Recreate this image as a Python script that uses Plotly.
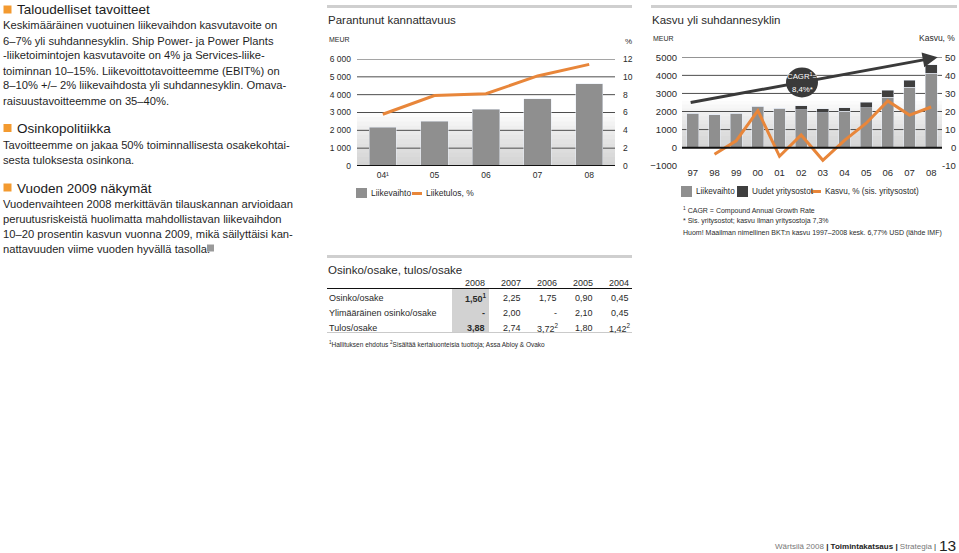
import plotly.graph_objects as go

W, H = 959, 553
def X(px): return px / W
def Y(py): return 1 - py / H

COND = "Liberation Sans, Arial, Helvetica, sans-serif"
SANS = "Liberation Sans, Arial, Helvetica, sans-serif"

# ---------------- data ----------------
c1_years = ["04¹", "05", "06", "07", "08"]
c1_sales = [2170, 2510, 3190, 3760, 4600]
c1_ebit_pct = [5.8, 7.9, 8.1, 10.1, 11.4]

c2_years = ["97", "98", "99", "00", "01", "02", "03", "04", "05", "06", "07", "08"]
c2_sales = [1900, 1830, 1900, 2280, 2170, 2110, 1930, 2020, 2220, 2800, 3350, 4130]
c2_acq = [0, 0, 0, 0, 0, 205, 220, 185, 300, 370, 390, 445]
c2_growth = [None, -3.7, 3.8, 20.5, -4.8, 7.0, -7.0, 4.0, 13.5, 25.8, 18.0, 22.5]
c2_pct_ticks = [-10, 0, 10, 20, 30, 40, 50]

tbl_years = ["2008", "2007", "2006", "2005", "2004"]
tbl_rows = ["Osinko/osake", "Ylimääräinen osinko/osake", "Tulos/osake"]
tbl_vals = [
    ["1,50<sup>1</sup>", "2,25", "1,75", "0,90", "0,45"],
    ["-", "2,00", "-", "2,10", "0,45"],
    ["3,88", "2,74", "3,72<sup>2</sup>", "1,80", "1,42<sup>2</sup>"],
]

GRAY = "#8f8f8f"
DARK = "#3f3f3f"
ORANGE = "#e8863a"
TXT = "#2a2a2a"
ARROW = "#3a3a3a"

fig = go.Figure()

# ---------------- chart 1 ----------------
fig.add_trace(go.Bar(x=c1_years, y=c1_sales, marker_color=GRAY, width=0.53,
                     xaxis="x", yaxis="y", showlegend=False))
fig.add_trace(go.Scatter(x=c1_years, y=c1_ebit_pct, mode="lines",
                         line=dict(color=ORANGE, width=3), xaxis="x", yaxis="y2", showlegend=False))

# ---------------- chart 2 ----------------
fig.add_trace(go.Bar(x=c2_years, y=c2_sales, marker_color=GRAY, width=0.54,
                     xaxis="x2", yaxis="y3", showlegend=False))
fig.add_trace(go.Bar(x=c2_years, y=c2_acq, marker_color=DARK, width=0.54,
                     xaxis="x2", yaxis="y3", showlegend=False))
fig.add_trace(go.Scatter(x=c2_years, y=c2_growth, mode="lines",
                         line=dict(color=ORANGE, width=3), xaxis="x2", yaxis="y4",
                         showlegend=False, connectgaps=False))

tickfont1 = dict(family=COND, size=8.5, color=TXT)
tickfont2 = dict(family=COND, size=9.5, color=TXT)

fig.update_layout(
    width=W, height=H, margin=dict(l=0, r=0, t=0, b=0, pad=0, autoexpand=False),
    paper_bgcolor="white", plot_bgcolor="rgba(0,0,0,0)",
    barmode="stack", bargap=0.4, showlegend=False,
    xaxis=dict(domain=[X(357), X(615)], anchor="y", showgrid=False, showline=False,
               zeroline=False, tickfont=tickfont1, ticks="", ticklabelstandoff=2,
               range=[-0.5, 4.5], automargin=False),
    yaxis=dict(domain=[Y(166), Y(59)], anchor="x", range=[0, 6000], showgrid=False,
               zeroline=False, tickvals=[0, 1000, 2000, 3000, 4000, 5000, 6000],
               ticktext=["0", "1 000", "2 000", "3 000", "4 000", "5 000", "6 000"],
               tickfont=tickfont1, ticklabelstandoff=5, automargin=False),
    yaxis2=dict(overlaying="y", side="right", anchor="x", range=[0, 12], showgrid=False,
                zeroline=False, tickvals=[0, 2, 4, 6, 8, 10, 12],
                tickfont=tickfont1, ticklabelstandoff=7, automargin=False),
    xaxis2=dict(domain=[X(682), X(942)], anchor="y3", showgrid=False, showline=False,
                zeroline=False, tickfont=tickfont2, ticks="", ticklabelstandoff=0,
                range=[-0.5, 11.5], automargin=False),
    yaxis3=dict(domain=[Y(165.7), Y(57.3)], anchor="x2", range=[-1000, 5000], showgrid=False,
                zeroline=False, tickvals=[-1000, 0, 1000, 2000, 3000, 4000, 5000],
                tickfont=tickfont2, ticklabelstandoff=4, automargin=False),
    yaxis4=dict(overlaying="y3", side="right", anchor="x2", range=[-10, 50], showgrid=False,
                zeroline=False, showticklabels=False, automargin=False),
)

shapes = []
annos = []

def rect_px(x0, y0, x1, y1, color, layer="above", line=None):
    shapes.append(dict(type="rect", xref="paper", yref="paper", x0=X(x0), x1=X(x1),
                       y0=Y(y1), y1=Y(y0), fillcolor=color, layer=layer,
                       line=dict(width=0) if line is None else line))

def line_px(x0, y0, x1, y1, color, width):
    shapes.append(dict(type="line", xref="paper", yref="paper", x0=X(x0), x1=X(x1),
                       y0=Y(y0), y1=Y(y1), line=dict(color=color, width=width), layer="above"))

def text_px(x, y, s, size, color=TXT, family=SANS, xanchor="left", yanchor="middle"):
    annos.append(dict(xref="paper", yref="paper", x=X(x), y=Y(y), text=s, showarrow=False,
                      xanchor=xanchor, yanchor=yanchor, align=xanchor if xanchor != "center" else "center",
                      font=dict(family=family, size=size, color=color)))

# right-aligned % tick labels of chart 2
for v in c2_pct_ticks:
    annos.append(dict(xref="paper", yref="y4", x=X(957.5), y=v, text=str(v), showarrow=False,
                      xanchor="right", yanchor="middle", font=tickfont2))

# gradient backgrounds (stacked translucent rects)
def gradient(xref, yref, top, n=12):
    for k in range(n):
        lvl = top * (k + 1) / n
        shapes.append(dict(type="rect", xref=xref, yref=yref, x0=0, x1=1, y0=0, y1=lvl,
                           fillcolor="rgba(150,150,150,0.04)", line=dict(width=0), layer="below"))

gradient("x domain", "y", 3000)
gradient("x2 domain", "y3", 2600)

# gridlines chart 1
for v in [1000, 2000, 3000, 4000, 5000, 6000]:
    shapes.append(dict(type="line", xref="x domain", yref="y", x0=0, x1=1, y0=v, y1=v,
                       line=dict(color="#4d4d4d", width=1), layer="below"))
shapes.append(dict(type="line", xref="x domain", yref="y", x0=0, x1=1, y0=0, y1=0,
                   line=dict(color="#111111", width=2), layer="above"))
# gridlines chart 2
for v in [1000, 2000, 3000, 4000, 5000]:
    shapes.append(dict(type="line", xref="x2 domain", yref="y3", x0=0, x1=1, y0=v, y1=v,
                       line=dict(color="#4d4d4d", width=1), layer="below"))
shapes.append(dict(type="line", xref="x2 domain", yref="y3", x0=0, x1=1, y0=0, y1=0,
                   line=dict(color="#111111", width=2), layer="above"))

# top rules
rect_px(327, 5, 632, 8, "#cfcfcf")
rect_px(651, 5, 957, 8, "#cfcfcf")
rect_px(327, 255, 632, 258, "#cfcfcf")

# chart titles
text_px(326, 20, "Parantunut kannattavuus", 11.5, family=COND)
text_px(327, 39, "MEUR", 7, family=COND)
text_px(623, 42, "%", 8, family=COND)
text_px(650, 20, "Kasvu yli suhdannesyklin", 11.5, family=COND)
text_px(651, 38, "MEUR", 7, family=COND)
text_px(957, 38, "Kasvu, %", 8.5, family=COND, xanchor="right")

# chart 1 legend
rect_px(356, 188, 367, 198, GRAY)
text_px(369, 193, "Liikevaihto", 8.5, family=COND)
rect_px(412, 192, 422, 195, ORANGE)
text_px(424, 193, "Liiketulos, %", 8.5, family=COND)

# chart 2 legend
rect_px(681, 186, 692, 197, GRAY)
text_px(694, 191.5, "Liikevaihto", 8.2, family=COND)
rect_px(737, 186, 748, 197, DARK)
text_px(750, 191.5, "Uudet yritysostot", 8.2, family=COND)
rect_px(811, 190, 821, 193, ORANGE)
text_px(823, 191.5, "Kasvu, % (sis. yritysostot)", 8.2, family=COND)
text_px(681, 210, "<sup>1</sup> CAGR = Compound Annual Growth Rate", 7, family=COND)
text_px(681, 221.5, "* Sis. yritysostot; kasvu ilman yritysostoja 7,3%", 7, family=COND)
text_px(681, 233, "Huom! Maailman nimellinen BKT:n kasvu 1997–2008 kesk. 6,77% USD (lähde IMF)", 7, family=COND)

# CAGR arrow (shaft as shape below the bubble, head as annotation) and bubble
ax0, ay0, ax1, ay1 = -0.1, 2500, 11.3, 5000
def arrow_y(xv): return ay0 + (ay1 - ay0) * (xv - ax0) / (ax1 - ax0)
shapes.append(dict(type="line", xref="x2", yref="y3", x0=ax0, y0=ay0, x1=10.9, y1=arrow_y(10.9),
                   line=dict(color=ARROW, width=3), layer="above"))
annos.append(dict(xref="x2", yref="y3", axref="x2", ayref="y3", x=ax1, y=ay1,
                  ax=10.6, ay=arrow_y(10.6), showarrow=True, arrowhead=2, arrowsize=1.0,
                  arrowwidth=3, arrowcolor=ARROW, text=""))
shapes.append(dict(type="circle", xref="paper", yref="paper", x0=X(786), x1=X(818),
                   y0=Y(97.5), y1=Y(67.5), fillcolor=ARROW, line=dict(width=0), layer="above"))
text_px(802, 76.5, "CAGR<sup>1</sup>=", 7.8, color="white", family=COND, xanchor="center")
text_px(802, 89, "8,4%*", 7.8, color="white", family=COND, xanchor="center")

# ---------------- table ----------------
text_px(326, 270, "Osinko/osake, tulos/osake", 11.5, family=COND)
col_x = [487, 523, 558.5, 595, 631]
rect_px(452, 289, 489, 332, "#d2d2d2", layer="below")
for xx, yr in zip(col_x, tbl_years):
    text_px(xx, 282.5, yr, 9, family=COND, xanchor="right")
line_px(327, 288.5, 632, 288.5, "#111111", 1)
row_y = [297.5, 312.5, 327.5]
for ry, lab, vals in zip(row_y, tbl_rows, tbl_vals):
    text_px(327, ry, lab, 9, family=COND)
    for j, (xx, v) in enumerate(zip(col_x, vals)):
        s = f"<b>{v}</b>" if j == 0 else v
        text_px(xx + (2 if "<sup>" in v else 0), ry, s, 9, family=COND, xanchor="right")
line_px(327, 332.5, 632, 332.5, "#bdbdbd", 0.8)
text_px(327, 344, "<sup>1</sup>Hallituksen ehdotus <sup>2</sup>Sisältää kertaluonteisia tuottoja; Assa Abloy & Ovako",
        6.5, family=COND)

# ---------------- left text column ----------------
heads = [(10, "Taloudelliset tavoitteet"), (128.5, "Osinkopolitiikka"), (188, "Vuoden 2009 näkymät")]
for hy, ht in heads:
    rect_px(3.5, hy - 4.5, 11.5, hy + 3.5, "#f39a30")
    text_px(15, hy, ht, 13.5, color="#1a1a1a")

body = [
    (25, "Keskimääräinen vuotuinen liikevaihdon kasvutavoite on"),
    (40.5, "6–7% yli suhdannesyklin. Ship Power- ja Power Plants"),
    (55.5, "-liiketoimintojen kasvutavoite on 4% ja Services-liike-"),
    (70.5, "toiminnan 10–15%. Liikevoittotavoitteemme (EBIT%) on"),
    (85.5, "8–10% +/– 2% liikevaihdosta yli suhdannesyklin. Omava-"),
    (100.5, "raisuustavoitteemme on 35–40%."),
    (144.5, "Tavoitteemme on jakaa 50% toiminnallisesta osakekohtai-"),
    (159.5, "sesta tuloksesta osinkona."),
    (203.5, "Vuodenvaihteen 2008 merkittävän tilauskannan arvioidaan"),
    (218.5, "peruutusriskeistä huolimatta mahdollistavan liikevaihdon"),
    (234, "10–20 prosentin kasvun vuonna 2009, mikä säilyttäisi kan-"),
    (249, "nattavuuden viime vuoden hyvällä tasolla."),
]
for by, bt in body:
    text_px(1, by, bt, 11.2, color="#1f1f1f")
rect_px(207, 244.5, 214, 251.5, "#9a9a9a")

# ---------------- page footer ----------------
text_px(938, 546,
        "<span style='color:#777'>Wärtsilä 2008</span> <b>| Toimintakatsaus |</b> "
        "<span style='color:#777'>Strategia</span> |", 8, color="#222", xanchor="right")
text_px(958, 545, "13", 15.5, color="#222", xanchor="right")

fig.update_layout(shapes=shapes, annotations=annos)
fig.write_html("out.html", config={"displayModeBar": False},
               post_script="document.body.style.margin='0';document.body.style.overflow='hidden';")
